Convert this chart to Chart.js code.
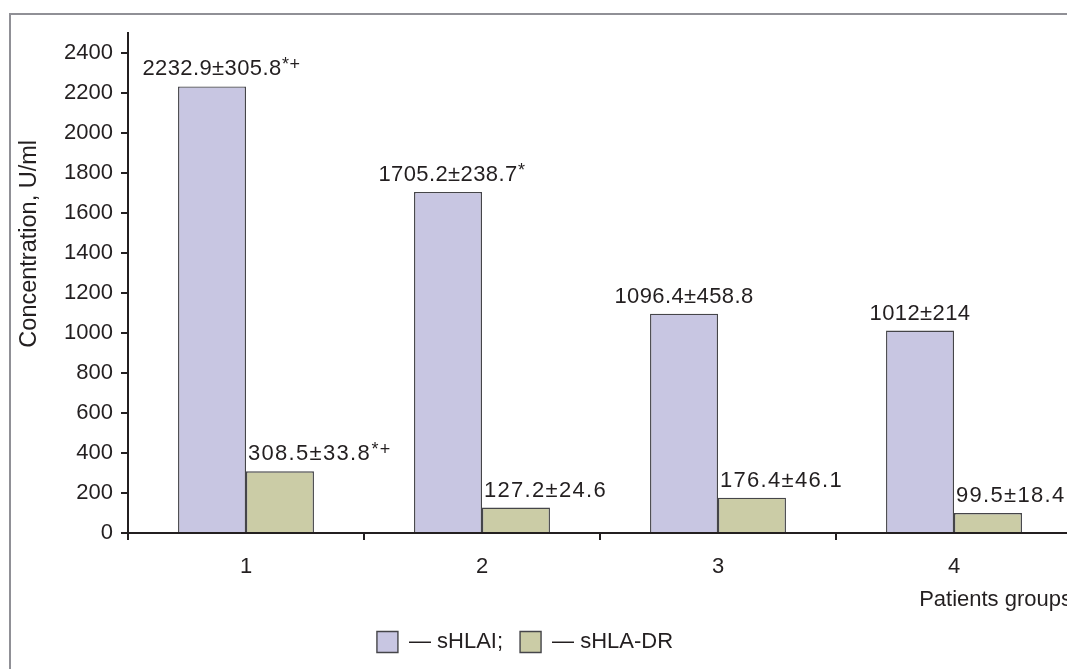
<!DOCTYPE html>
<html>
<head>
<meta charset="utf-8">
<script src="https://cdn.jsdelivr.net/npm/chart.js@4.4.1/dist/chart.umd.min.js"></script>
<style>
  html, body { margin: 0; padding: 0; width: 1067px; height: 669px; overflow: hidden; background: #ffffff; }
  #frame { position: absolute; left: 9px; top: 13px; width: 2000px; height: 2000px;
           border-left: 2px solid #909096; border-top: 2px solid #909096; }
  /* the plot runs past the right edge of the frame, so the canvas is wider than the page */
  #wrap { position: absolute; left: -22px; top: 0; width: 1100px; height: 669px; }
  canvas { display: block; }
</style>
</head>
<body>
<div id="frame"></div>
<div id="wrap"><canvas id="c" width="1100" height="669"></canvas></div>
<script>
// Patient groups and serum concentrations (U/ml), mean ± SD
const groups = ['1', '2', '3', '4'];
const sHLAIMean = [2232.9, 1705.2, 1096.4, 1012];
const sHLAISd = [305.8, 238.7, 458.8, 214];
const sHLAIMarks = ['*+', '*', '', ''];
const sHLADRMean = [308.5, 127.2, 176.4, 99.5];
const sHLADRSd = [33.8, 24.6, 46.1, 18.4];
const sHLADRMarks = ['*+', '', '', ''];
const yTicks = [0, 200, 400, 600, 800, 1000, 1200, 1400, 1600, 1800, 2000, 2200, 2400];
const legendText = ['— sHLAI;', '— sHLA-DR'];

const INK = '#231f20';
const FONT = '"Liberation Sans", Arial, sans-serif';
const FS = 22;

Chart.defaults.font.family = FONT;
Chart.defaults.font.size = FS;
Chart.defaults.color = INK;

// mean±SD labels above every bar, with superscript significance marks
const valueLabels = {
  id: 'valueLabels',
  afterDatasetsDraw(chart) {
    const ctx = chart.ctx;
    const specs = [
      { means: sHLAIMean, sds: sHLAISd, marks: sHLAIMarks, align: 'center', spacing: '0.4px' },
      { means: sHLADRMean, sds: sHLADRSd, marks: sHLADRMarks, align: 'left', spacing: '1.3px' }
    ];
    ctx.save();
    ctx.fillStyle = INK;
    ctx.textAlign = 'left';
    ctx.textBaseline = 'alphabetic';
    specs.forEach((s, di) => {
      chart.getDatasetMeta(di).data.forEach((bar, i) => {
        const main = `${s.means[i]}±${s.sds[i]}`;
        ctx.font = `${FS}px ${FONT}`;
        ctx.letterSpacing = s.spacing;
        const w = ctx.measureText(main).width;
        const x0 = s.align === 'center' ? bar.x - w / 2 : bar.x - bar.width / 2 + 2;
        const y = bar.y - 11;
        ctx.fillText(main, x0, y);
        if (s.marks[i]) {
          ctx.font = `18px ${FONT}`;
          ctx.fillText(s.marks[i], x0 + w + 0.5, y - 5);
        }
      });
    });
    ctx.restore();
  }
};

new Chart(document.getElementById('c'), {
  type: 'bar',
  data: {
    labels: groups,
    datasets: [
      {
        label: 'sHLAI',
        data: sHLAIMean,
        backgroundColor: '#c8c6e2',
        borderColor: '#454549',
        borderWidth: 1.4,
        barPercentage: 1,
        categoryPercentage: 0.576
      },
      {
        label: 'sHLA-DR',
        data: sHLADRMean,
        backgroundColor: '#cbcca6',
        borderColor: '#454549',
        borderWidth: 1.4,
        barPercentage: 1,
        categoryPercentage: 0.576
      }
    ]
  },
  options: {
    responsive: false,
    animation: false,
    layout: { padding: { left: 0, right: 6, top: 33, bottom: 6 } },
    plugins: {
      tooltip: { enabled: false },
      legend: {
        position: 'bottom',
        labels: {
          boxWidth: 21,
          boxHeight: 21,
          padding: 17,
          color: INK,
          font: { size: FS },
          generateLabels(chart) {
            const items = Chart.defaults.plugins.legend.labels.generateLabels(chart);
            items.forEach((it, i) => { it.text = legendText[i]; });
            return items;
          }
        }
      }
    },
    scales: {
      x: {
        offset: true,
        grid: {
          offset: true,
          drawOnChartArea: false,
          drawTicks: true,
          tickLength: 7,
          color: INK,
          lineWidth: 2
        },
        border: { display: true, color: INK, width: 2 },
        ticks: { color: INK, padding: 14, font: { size: FS } },
        title: {
          display: true,
          text: 'Patients groups',
          align: 'end',
          color: INK,
          font: { size: FS },
          padding: { top: 0, bottom: 1 }
        },
        afterFit(scale) { scale.height = 81; }
      },
      y: {
        min: 0,
        max: 2500,
        grid: {
          drawOnChartArea: false,
          drawTicks: true,
          tickLength: 7,
          color: INK,
          lineWidth: 2
        },
        border: { display: true, color: INK, width: 2 },
        ticks: { color: INK, padding: 8, font: { size: FS }, callback: v => String(v) },
        title: {
          display: true,
          // leading blanks lift the rotated title above the axis midpoint
          text: '            Concentration, U/ml',
          color: INK,
          font: { size: 23.5 },
          padding: { top: 37.5, bottom: 0 }
        },
        afterBuildTicks(scale) { scale.ticks = yTicks.map(v => ({ value: v })); },
        afterFit(scale) { scale.width = 150; }
      }
    }
  },
  plugins: [valueLabels]
});
</script>
</body>
</html>
